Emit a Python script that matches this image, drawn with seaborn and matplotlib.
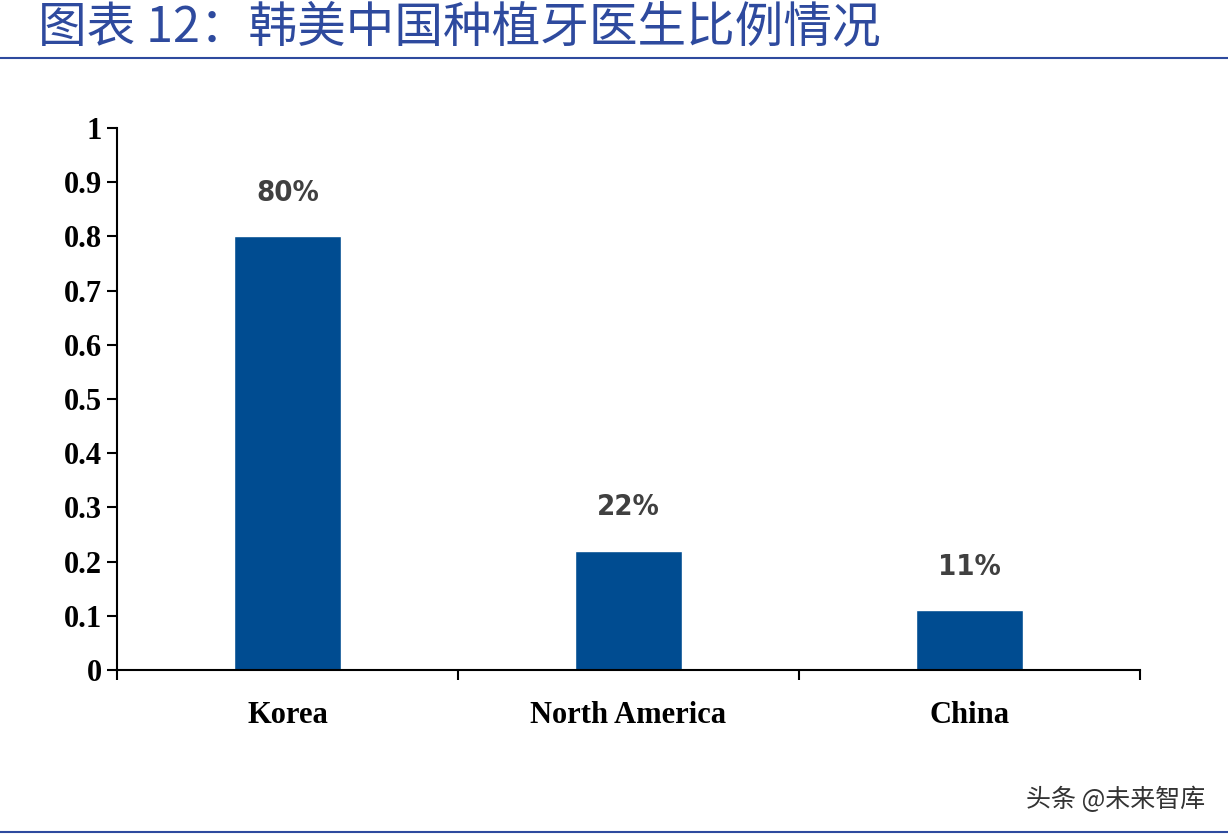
import matplotlib
matplotlib.use("Agg")
import matplotlib.pyplot as plt
import seaborn as sns
import pandas as pd

categories = ["Korea", "North America", "China"]
values = [0.80, 0.22, 0.11]
labels = ["80%", "22%", "11%"]
yticks = [0, 0.1, 0.2, 0.3, 0.4, 0.5, 0.6, 0.7, 0.8, 0.9, 1]
ytick_labels = ["0", "0.1", "0.2", "0.3", "0.4", "0.5", "0.6", "0.7", "0.8", "0.9", "1"]
title = "图表 12：韩美中国种植牙医生比例情况"
watermark = "头条 @未来智库"

sns.set_style("white")
plt.rcParams['font.family'] = ['Noto Sans CJK SC', 'DejaVu Sans']

df = pd.DataFrame({"cat": categories, "val": values})
fig = plt.figure(figsize=(12.28, 8.4), dpi=100)
ax = fig.add_axes([117/1228, 170/840, 1023/1228, 542/840])
sns.barplot(data=df, x="cat", y="val", color="#004C91", saturation=1, width=0.315, ax=ax)
ax.set_xlim(-0.5, 2.5)
ax.set_ylim(0, 1)
ax.set_yticks(yticks)
ax.set_yticklabels(ytick_labels, fontsize=22, fontweight="bold", family="Liberation Serif", color="black")
ax.set_xticks(range(3))
ax.set_xticklabels(categories, fontsize=22, fontweight="bold", family="Liberation Serif", color="black")
ax.set_xticks([-0.5, 0.5, 1.5, 2.5], minor=True)
ax.tick_params(axis="x", which="major", length=0, pad=22)
ax.tick_params(axis="x", which="minor", bottom=True, length=7, width=1.5, direction="out", color="black")
ax.tick_params(axis="y", length=7, width=1.5, direction="out", color="black", left=True, pad=4)
ax.set_xlabel(""); ax.set_ylabel("")
for s in ["top", "right"]:
    ax.spines[s].set_visible(False)
for s in ["left", "bottom"]:
    ax.spines[s].set_color("black"); ax.spines[s].set_linewidth(1.5)
for i, (v, l) in enumerate(zip(values, labels)):
    ax.text(i, v + 0.08, l, ha="center", va="center", fontsize=21, fontweight="bold",
            color="#404040", family="DejaVu Sans", stretch="condensed")

fig.text(38/1228, 1 - 28/840, title, fontsize=35, color="#2E4A9E", va="center", ha="left")
fig.add_artist(plt.Line2D([0.0, 1.0], [1 - 58/840] * 2, color="#2E4A9E", lw=1.5))
fig.add_artist(plt.Line2D([0.0, 1.0], [1 - 832/840] * 2, color="#2E4A9E", lw=1.5))
fig.text(1205/1228, 1 - 800/840, watermark, fontsize=18, color="#333333", ha="right", va="center")
fig.savefig("out.png", dpi=100)
